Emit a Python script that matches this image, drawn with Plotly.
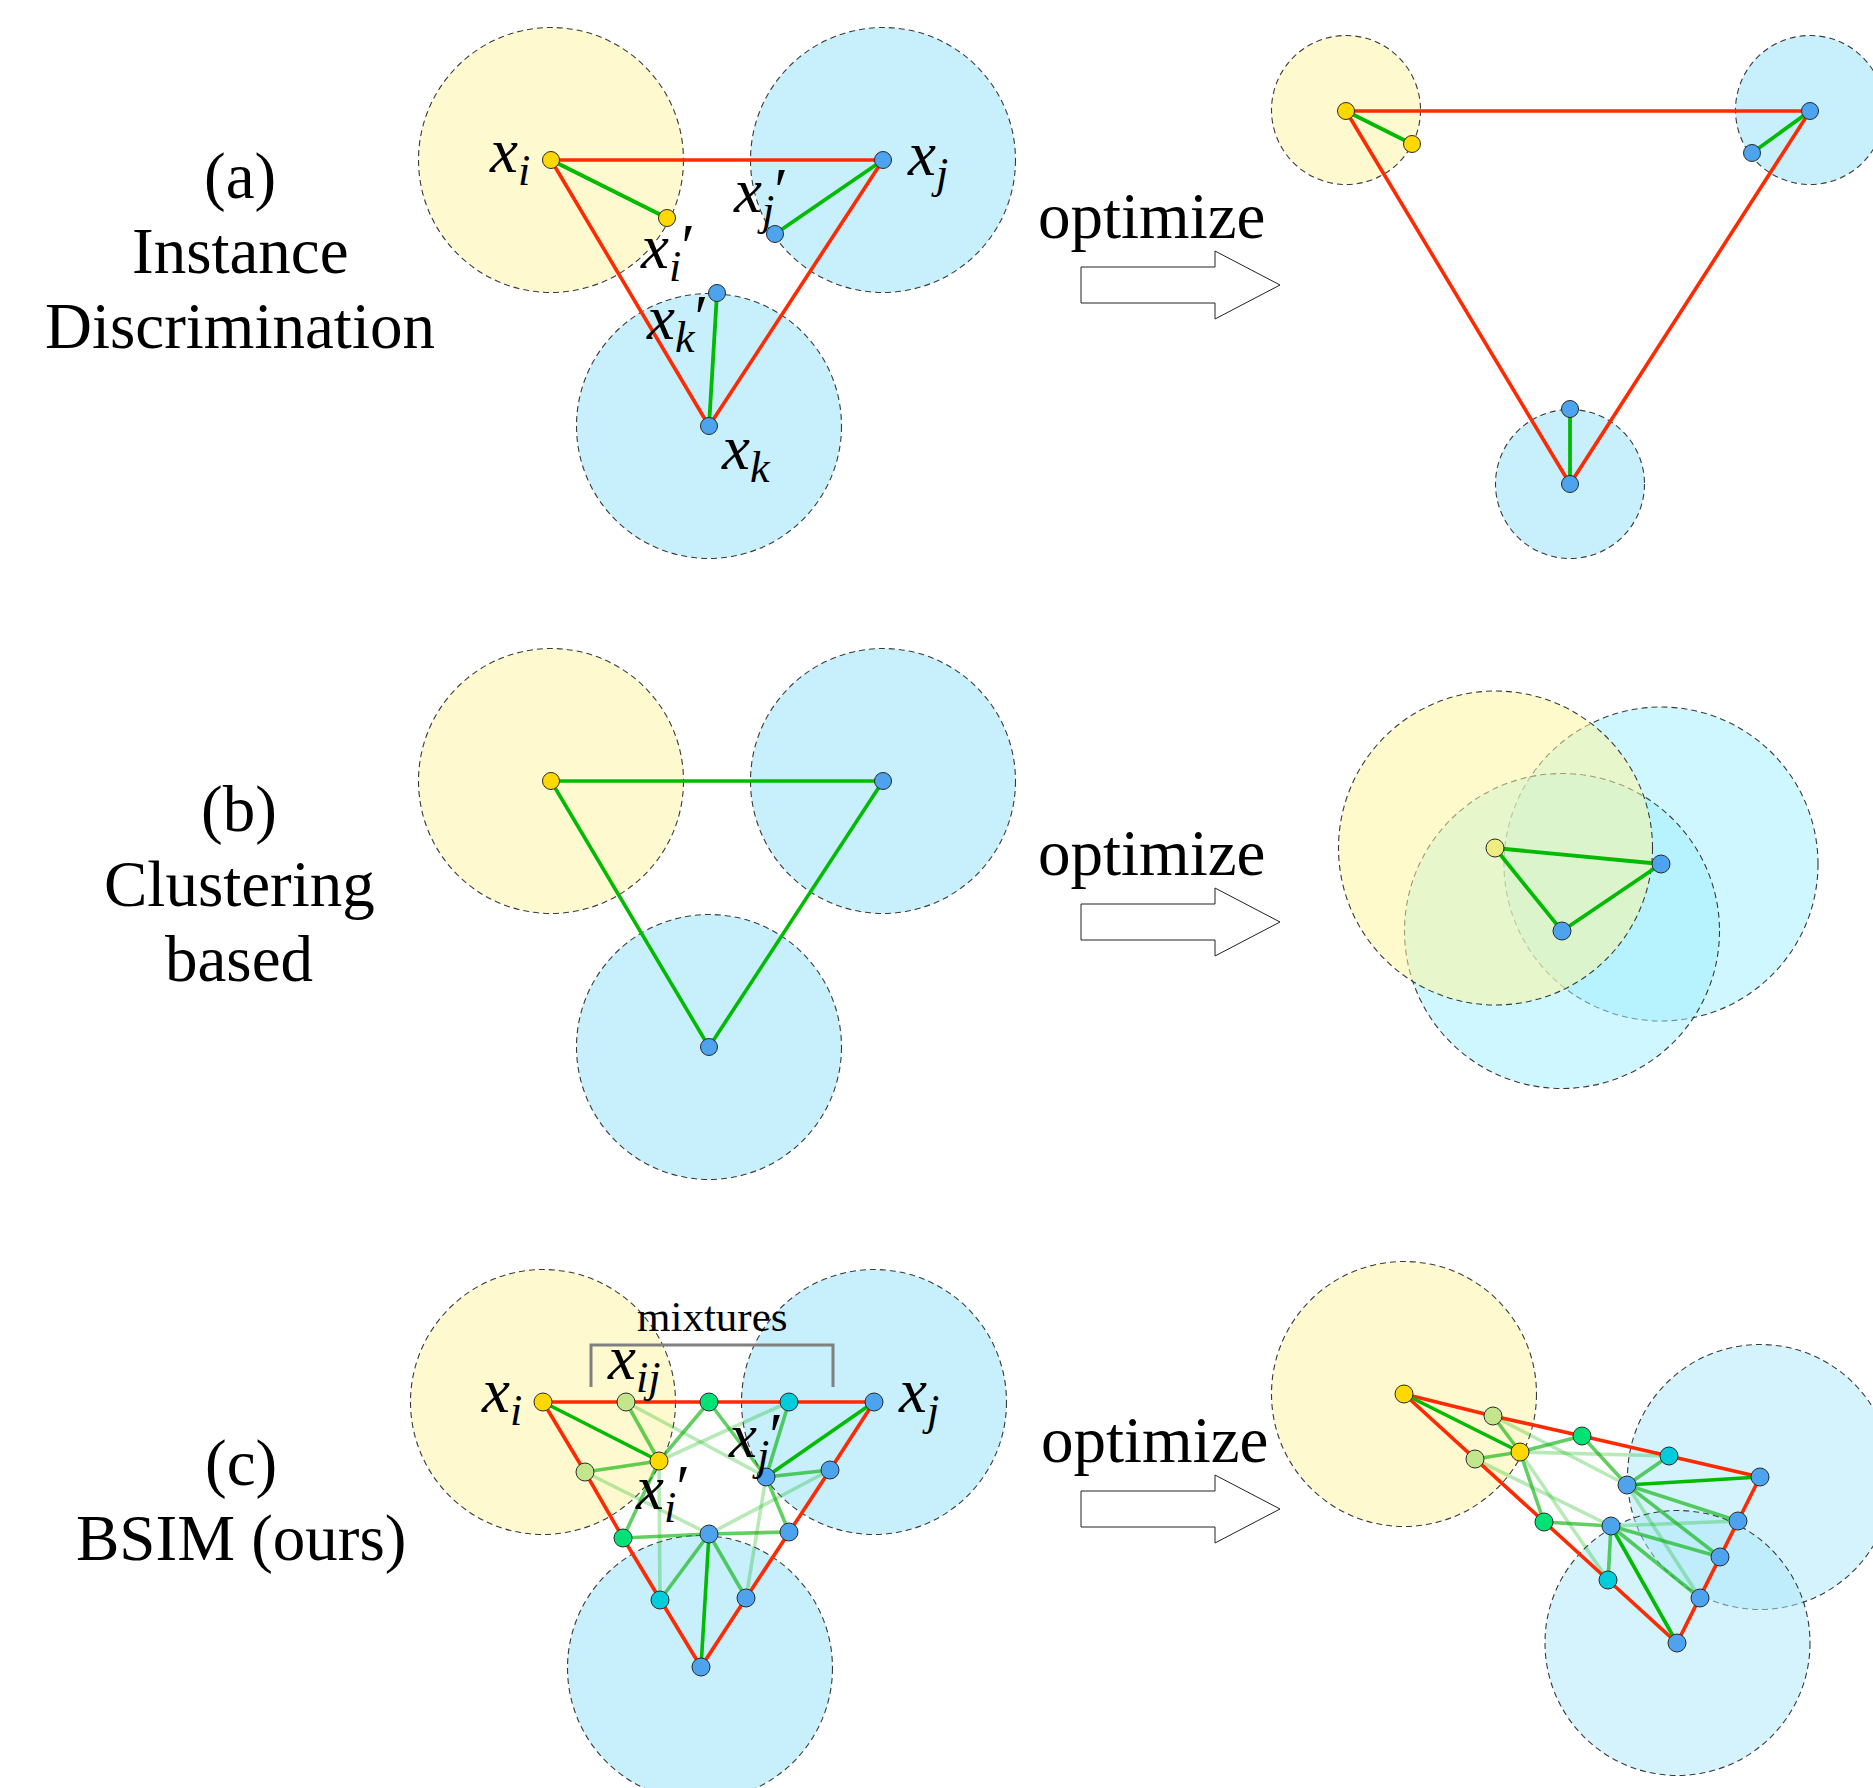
import plotly.graph_objects as go

W, H = 1873, 1788
SERIF = "Liberation Serif"

# ---------------- colours ----------------
YELLOW_NODE = "#FFD800"
BLUE_NODE = "#4DA3EE"
LGREEN_NODE = "#C3E68C"
GREEN_NODE = "#00E276"
CYAN_NODE = "#00CCDB"
PALE_YELLOW_NODE = "#EFEC80"
RED = "#FF2A00"
DARK_GREEN = "#00BB00"
MED_GREEN = "rgba(0,178,0,0.62)"
LIGHT_GREEN = "rgba(0,178,0,0.28)"
YELLOW_FILL = "#FFF9D0"
BLUE_FILL = "#C7EFFC"

# ---------------- panel (a) ----------------
a_names = ["xi", "xj", "xk", "xi_p", "xj_p", "xk_p"]
a_colors = [YELLOW_NODE, BLUE_NODE, BLUE_NODE, YELLOW_NODE, BLUE_NODE, BLUE_NODE]
a_left_x = [551, 883, 709, 667, 775, 717]
a_left_y = [160, 160, 426, 218, 234, 293]
a_right_x = [1346, 1810, 1570, 1412, 1752, 1570]
a_right_y = [111, 111, 484, 144, 153, 409]
a_left_circle_x = [551, 883, 709]
a_left_circle_y = [160, 160, 426]
a_left_r = [132.5, 132.5, 132.5]
a_right_circle_x = [1346, 1810, 1570]
a_right_circle_y = [110, 110, 484]
a_right_r = [74.5, 74.5, 74.5]
a_red_path = ["xi", "xj", "xk", "xi"]
a_green_edges = [("xi", "xi_p"), ("xj", "xj_p"), ("xk", "xk_p")]

# ---------------- panel (b) ----------------
b_names = ["xi", "xj", "xk"]
b_left_x = [551, 883, 709]
b_left_y = [781, 781, 1047]
b_left_colors = [YELLOW_NODE, BLUE_NODE, BLUE_NODE]
b_right_x = [1495, 1661, 1562]
b_right_y = [848, 864, 931]
b_right_colors = [PALE_YELLOW_NODE, BLUE_NODE, BLUE_NODE]
b_right_circle_x = [1495.5, 1661, 1562]
b_right_circle_y = [848, 864, 931]
b_right_r = [157, 157, 157.5]
b_green_path = ["xi", "xj", "xk", "xi"]

# ---------------- panel (c) ----------------
c_names = ["I", "J", "K", "Ip", "Jp", "Kp",
           "IJ1", "IJ2", "IJ3", "IK1", "IK2", "IK3", "JK1", "JK2", "JK3"]
c_colors = [YELLOW_NODE, BLUE_NODE, BLUE_NODE, YELLOW_NODE, BLUE_NODE, BLUE_NODE,
            LGREEN_NODE, GREEN_NODE, CYAN_NODE, LGREEN_NODE, GREEN_NODE, CYAN_NODE,
            BLUE_NODE, BLUE_NODE, BLUE_NODE]
c_left_x = [543, 874, 701, 659, 766, 709, 626, 709, 789, 585, 623, 660, 830, 789, 746]
c_left_y = [1402, 1402, 1667, 1461, 1477, 1534, 1402, 1402, 1402, 1472, 1538, 1600, 1470, 1532, 1598]
c_right_x = [1404, 1760, 1677, 1520, 1627, 1611, 1493, 1582, 1669, 1475, 1544, 1608, 1738, 1720, 1700]
c_right_y = [1394, 1477, 1643, 1452, 1485, 1526, 1416, 1436, 1456, 1459, 1522, 1580, 1521, 1557, 1598]
c_left_circle_x = [543, 874, 700]
c_left_circle_y = [1402, 1402, 1668]
c_right_circle_x = [1404, 1760, 1677.5]
c_right_circle_y = [1394, 1477, 1643]
c_r = [132.5, 132.5, 132.5]
c_red_path = ["I", "IJ1", "IJ2", "IJ3", "J", "JK1", "JK2", "JK3", "K", "IK3", "IK2", "IK1", "I"]
c_dark_edges = [("I", "Ip"), ("J", "Jp"), ("K", "Kp")]
c_medium_edges = [("Ip", "IJ1"), ("Ip", "IK1"), ("Ip", "IJ2"), ("Ip", "IK2"),
                  ("Jp", "IJ3"), ("Jp", "JK1"), ("Jp", "IJ2"), ("Jp", "JK2"),
                  ("Kp", "IK3"), ("Kp", "JK3"), ("Kp", "IK2"), ("Kp", "JK2")]
c_light_edges = [("Ip", "IJ3"), ("Ip", "IK3"), ("Jp", "IJ1"),
                 ("Jp", "JK3"), ("Kp", "IK1"), ("Kp", "JK1")]

# ---------------- text ----------------
row_titles = [["(a)", "Instance", "Discrimination"], ["(b)", "Clustering", "based"], ["(c)", "BSIM (ours)"]]
row_title_x = [240, 239, 241]
row_title_y0 = [176, 809, 1463]
row_title_step = 75
optimize_text = "optimize"
optimize_x = [1151, 1151, 1154]
optimize_y = [216, 853, 1440]
arrow_cy = [285, 922, 1509]
arrow_x0, arrow_xh, arrow_xt = 1081, 1215, 1280
arrow_body_half, arrow_head_half = 18, 34

a_labels = ["<i>x</i><sub><i>i</i></sub>", "<i>x</i><sub><i>j</i></sub>",
            "<i>x</i><sub><i>i</i></sub>\u2032", "<i>x</i><sub><i>j</i></sub>\u2032",
            "<i>x</i><sub><i>k</i></sub>\u2032", "<i>x</i><sub><i>k</i></sub>"]
a_label_x = [509, 927, 667, 760, 677, 746]
a_label_y = [155, 158, 251, 195, 322, 452]
c_labels = ["<i>x</i><sub><i>i</i></sub>", "<i>x</i><sub><i>ij</i></sub>",
            "<i>x</i><sub><i>j</i></sub>", "<i>x</i><sub><i>j</i></sub>\u2032",
            "<i>x</i><sub><i>i</i></sub>\u2032"]
c_label_x = [501, 633, 918, 755, 662]
c_label_y = [1395, 1362, 1395, 1440, 1492]
mixtures_text = "mixtures"
mixtures_xy = (712, 1316)
bracket_x = [591, 591, 833, 833]
bracket_y = [1387, 1345, 1345, 1387]

fig = go.Figure()
shapes = []


def add_circles(cx, cy, rs, fills, layer="below"):
    for x, y, r, f in zip(cx, cy, rs, fills):
        shapes.append(dict(type="circle", xref="x", yref="y", layer=layer,
                           x0=x - r, x1=x + r, y0=y - r, y1=y + r,
                           fillcolor=f, line=dict(color="#3a3a3a", width=1.1, dash="6px,4px")))


add_circles(a_left_circle_x, a_left_circle_y, a_left_r, [YELLOW_FILL, BLUE_FILL, BLUE_FILL])
add_circles(a_right_circle_x, a_right_circle_y, a_right_r, [YELLOW_FILL, BLUE_FILL, BLUE_FILL])
add_circles(b_left_x, b_left_y, a_left_r, [YELLOW_FILL, BLUE_FILL, BLUE_FILL])
# (b) right: translucent, yellow on top
add_circles([b_right_circle_x[1], b_right_circle_x[2], b_right_circle_x[0]],
            [b_right_circle_y[1], b_right_circle_y[2], b_right_circle_y[0]],
            [b_right_r[1], b_right_r[2], b_right_r[0]],
            ["rgba(160,240,255,0.5)", "rgba(160,240,255,0.5)", "rgba(255,245,155,0.52)"])
add_circles(c_left_circle_x, c_left_circle_y, c_r, [YELLOW_FILL, BLUE_FILL, BLUE_FILL])
add_circles(c_right_circle_x, c_right_circle_y, c_r,
            [YELLOW_FILL, "rgba(172,232,250,0.5)", "rgba(172,232,250,0.5)"])

# arrows
for cy in arrow_cy:
    p = (f"M {arrow_x0},{cy - arrow_body_half} L {arrow_xh},{cy - arrow_body_half} "
         f"L {arrow_xh},{cy - arrow_head_half} L {arrow_xt},{cy} L {arrow_xh},{cy + arrow_head_half} "
         f"L {arrow_xh},{cy + arrow_body_half} L {arrow_x0},{cy + arrow_body_half} Z")
    shapes.append(dict(type="path", path=p, xref="x", yref="y", fillcolor="white",
                       line=dict(color="#222", width=1)))

# bracket
fig.add_trace(go.Scatter(x=bracket_x, y=bracket_y, mode="lines",
                         line=dict(color="#808080", width=3), hoverinfo="skip"))


def pos(names, xs, ys):
    return {n: (x, y) for n, x, y in zip(names, xs, ys)}


def add_path(P, path, color, width):
    fig.add_trace(go.Scatter(x=[P[n][0] for n in path], y=[P[n][1] for n in path],
                             mode="lines", line=dict(color=color, width=width), hoverinfo="skip"))


def add_edges(P, edges, color, width):
    xs, ys = [], []
    for a, b in edges:
        xs += [P[a][0], P[b][0], None]
        ys += [P[a][1], P[b][1], None]
    fig.add_trace(go.Scatter(x=xs, y=ys, mode="lines", line=dict(color=color, width=width),
                             hoverinfo="skip", connectgaps=False))


def add_nodes(xs, ys, colors, size):
    fig.add_trace(go.Scatter(x=xs, y=ys, mode="markers",
                             marker=dict(size=size, color=colors, line=dict(color="#2a2a2a", width=1)),
                             hoverinfo="skip"))


# panel (a)
for xs, ys in [(a_left_x, a_left_y), (a_right_x, a_right_y)]:
    P = pos(a_names, xs, ys)
    add_path(P, a_red_path, RED, 3.6)
    add_edges(P, a_green_edges, DARK_GREEN, 3.8)
    add_nodes(xs, ys, a_colors, 17)

# panel (b)
Pb = pos(b_names, b_left_x, b_left_y)
add_path(Pb, b_green_path, DARK_GREEN, 3.6)
add_nodes(b_left_x, b_left_y, b_left_colors, 17)
Pb2 = pos(b_names, b_right_x, b_right_y)
add_path(Pb2, b_green_path, DARK_GREEN, 3.8)
add_nodes(b_right_x, b_right_y, b_right_colors, 18)

# panel (c)
for xs, ys in [(c_left_x, c_left_y), (c_right_x, c_right_y)]:
    P = pos(c_names, xs, ys)
    add_edges(P, c_light_edges, LIGHT_GREEN, 3.6)
    add_edges(P, c_medium_edges, MED_GREEN, 3.6)
    add_path(P, c_red_path, RED, 3.6)
    add_edges(P, c_dark_edges, DARK_GREEN, 3.6)
    add_nodes(xs, ys, c_colors, 18)

annotations = []


def ann(x, y, text, size, xanchor="center"):
    annotations.append(dict(x=x, y=y, xref="x", yref="y", text=text, showarrow=False,
                            xanchor=xanchor, yanchor="middle",
                            font=dict(family=SERIF, size=size, color="black")))


for lines, x, y0 in zip(row_titles, row_title_x, row_title_y0):
    for k, t in enumerate(lines):
        ann(x, y0 + k * row_title_step, t, 65)
for x, y in zip(optimize_x, optimize_y):
    ann(x, y, optimize_text, 65)
for t, x, y in zip(a_labels, a_label_x, a_label_y):
    ann(x, y, t, 63)
for t, x, y in zip(c_labels, c_label_x, c_label_y):
    ann(x, y, t, 63)
ann(mixtures_xy[0], mixtures_xy[1], mixtures_text, 43)

fig.update_layout(
    width=W, height=H, autosize=False,
    margin=dict(l=0, r=0, t=0, b=0, pad=0),
    paper_bgcolor="white", plot_bgcolor="white",
    showlegend=False, shapes=shapes, annotations=annotations,
    xaxis=dict(range=[0, W], visible=False, fixedrange=True),
    yaxis=dict(range=[H, 0], visible=False, fixedrange=True),
)

fig.write_html("out.html", config={"displayModeBar": False},
               post_script="document.body.style.margin='0';document.body.style.overflow='hidden';")
